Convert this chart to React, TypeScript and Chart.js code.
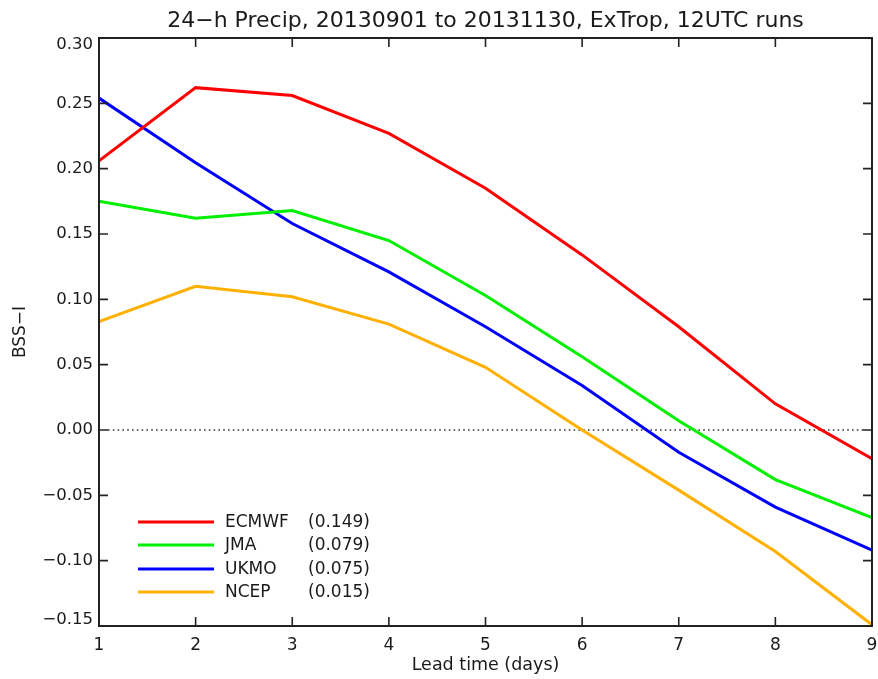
import React, { useEffect, useRef } from "react";
import { Chart, registerables } from "chart.js";

Chart.register(...registerables);

const chartTitle = "24\u2212h Precip, 20130901 to 20131130, ExTrop, 12UTC runs";
const xTitle = "Lead time (days)";
const yTitle = "BSS\u2212I";

const leadDays = [1, 2, 3, 4, 5, 6, 7, 8, 9];
const ecmwf = [0.206, 0.262, 0.256, 0.227, 0.185, 0.134, 0.079, 0.02, -0.022];
const jma = [0.175, 0.162, 0.168, 0.145, 0.103, 0.056, 0.007, -0.038, -0.067];
const ukmo = [0.254, 0.2045, 0.158, 0.121, 0.079, 0.034, -0.017, -0.059, -0.092];
const ncep = [0.083, 0.11, 0.102, 0.081, 0.048, 0.0, -0.046, -0.093, -0.149];

const modelNames = ["ECMWF", "JMA", "UKMO", "NCEP"];
const meanScores = ["(0.149)", "(0.079)", "(0.075)", "(0.015)"];
const modelColors = ["#ff0000", "#00f000", "#0000ff", "#ffb000"];
const seriesValues = [ecmwf, jma, ukmo, ncep];

const yTicks = [-0.15, -0.1, -0.05, 0.0, 0.05, 0.1, 0.15, 0.2, 0.25, 0.3];

const FONT = "'DejaVu Sans', 'Liberation Sans', Arial, sans-serif";
const TEXT = "#1a1a1a";

const fmt = (v: number) => {
  const r = Math.round(v * 100) / 100;
  const s = Math.abs(r).toFixed(2);
  return r < 0 ? "\u2212" + s : s;
};

const framePlugin = {
  id: "framePlugin",
  beforeDatasetsDraw(chart: any) {
    const { ctx, chartArea } = chart;
    const y = chart.scales.y;
    const py = y.getPixelForValue(0);
    ctx.save();
    ctx.strokeStyle = "#333";
    ctx.lineWidth = 1.6;
    ctx.setLineDash([1.6, 3.2]);
    ctx.beginPath();
    ctx.moveTo(chartArea.left + 9, py);
    ctx.lineTo(chartArea.right - 9, py);
    ctx.stroke();
    ctx.restore();
  },
  afterDraw(chart: any) {
    const { ctx, chartArea } = chart;
    const xs = chart.scales.x;
    const ys = chart.scales.y;
    const { left, right, top, bottom } = chartArea;
    ctx.save();
    ctx.strokeStyle = "#222";
    ctx.lineWidth = 2;
    ctx.setLineDash([]);
    ctx.strokeRect(left, top, right - left, bottom - top);
    ctx.lineWidth = 1.6;
    ctx.beginPath();
    for (const v of yTicks) {
      const p = ys.getPixelForValue(v);
      ctx.moveTo(left, p);
      ctx.lineTo(left + 9, p);
      ctx.moveTo(right, p);
      ctx.lineTo(right - 9, p);
    }
    for (const d of leadDays) {
      const p = xs.getPixelForValue(d);
      ctx.moveTo(p, bottom);
      ctx.lineTo(p, bottom - 9);
      ctx.moveTo(p, top);
      ctx.lineTo(p, top + 9);
    }
    ctx.stroke();

    // y tick labels (kept inside the axis span, as in the original)
    ctx.fillStyle = TEXT;
    ctx.font = `16.5px ${FONT}`;
    ctx.textAlign = "right";
    ctx.textBaseline = "middle";
    for (const v of yTicks) {
      let p = ys.getPixelForValue(v);
      p = Math.min(Math.max(p, top + 6.5), bottom - 6.5);
      ctx.fillText(fmt(v), left - 6, p);
    }

    // title
    ctx.font = `22px ${FONT}`;
    ctx.textAlign = "center";
    ctx.textBaseline = "alphabetic";
    ctx.fillText(chartTitle, (left + right) / 2, 27);

    // legend
    const rows = [522, 545, 569, 592];
    ctx.font = `17px ${FONT}`;
    ctx.textAlign = "left";
    ctx.textBaseline = "middle";
    chart.data.datasets.forEach((ds: any, i: number) => {
      const yy = rows[i];
      ctx.strokeStyle = ds.borderColor;
      ctx.lineWidth = 3;
      ctx.beginPath();
      ctx.moveTo(138, yy);
      ctx.lineTo(214, yy);
      ctx.stroke();
      ctx.fillStyle = TEXT;
      ctx.fillText(ds.label, 225, yy + 1);
      ctx.fillText(meanScores[i], 308, yy + 1);
    });
    ctx.restore();
  },
};

export default function App() {
  const ref = useRef<HTMLCanvasElement | null>(null);
  useEffect(() => {
    if (!ref.current) return;
    const chart = new Chart(ref.current, {
      type: "line",
      data: {
        datasets: modelNames.map((name, i) => ({
          label: name,
          data: leadDays.map((d, j) => ({ x: d, y: seriesValues[i][j] })),
          borderColor: modelColors[i],
          backgroundColor: modelColors[i],
          borderWidth: 3,
          pointRadius: 0,
          tension: 0,
          fill: false,
        })),
      },
      options: {
        responsive: false,
        animation: false,
        layout: { padding: { top: 38, right: 6, left: 0, bottom: 0 } },
        plugins: {
          legend: { display: false },
          title: { display: false },
          tooltip: { enabled: false },
        },
        scales: {
          x: {
            type: "linear",
            min: 1,
            max: 9,
            afterBuildTicks: (s: any) => {
              s.ticks = leadDays.map((v) => ({ value: v }));
            },
            afterFit: (s: any) => {
              s.height = 53;
              s.paddingLeft = 0;
              s.paddingRight = 0;
            },
            grid: { display: false, drawTicks: false },
            border: { display: false },
            ticks: {
              padding: 9,
              color: TEXT,
              font: { family: FONT, size: 17 },
              maxRotation: 0,
              callback: (v: any) => String(v),
            },
            title: {
              display: true,
              text: xTitle,
              color: TEXT,
              font: { family: FONT, size: 17.5 },
              padding: { top: 0, bottom: 3 },
            },
          },
          y: {
            type: "linear",
            min: -0.15,
            max: 0.3,
            afterBuildTicks: (s: any) => {
              s.ticks = yTicks.map((v) => ({ value: v }));
            },
            afterFit: (s: any) => {
              s.width = 99;
              s.paddingTop = 0;
              s.paddingBottom = 0;
            },
            grid: { display: false, drawTicks: false },
            border: { display: false },
            ticks: { display: false },
            title: {
              display: true,
              text: yTitle,
              color: TEXT,
              font: { family: FONT, size: 17 },
              padding: { top: 10, bottom: 0 },
            },
          },
        },
      },
      plugins: [framePlugin],
    });
    return () => chart.destroy();
  }, []);
  return (
    <div style={{ position: "fixed", left: 0, top: 0, width: 878, height: 679, background: "#fff" }}>
      <canvas ref={ref} width={878} height={679} />
    </div>
  );
}
